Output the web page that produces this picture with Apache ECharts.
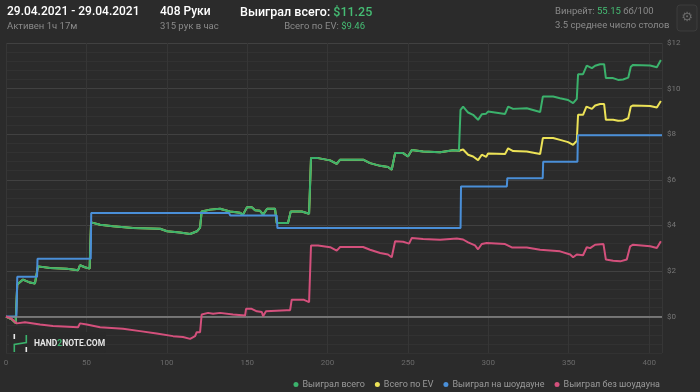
<!DOCTYPE html>
<html><head><meta charset="utf-8">
<script src="https://cdn.jsdelivr.net/npm/echarts@6/dist/echarts.min.js"></script>
<style>html,body{margin:0;padding:0;background:#2b2b2b;}#c{width:700px;height:392px;}</style>
</head><body><div id="c"></div>
<script>
// ---- data (x = hand number, y = dollars) ----
const xTicks = [0, 50, 100, 150, 200, 250, 300, 350, 400];
const yTicks = [0, 2, 4, 6, 8, 10, 12];
const seriesNames = ['Выиграл всего', 'Всего по EV', 'Выиграл на шоудауне', 'Выиграл без шоудауна'];

const totalHands = [0,3.5,6,7,7.5,10.6,14.9,18,19,19.9,27.4,37.8,44.8,46,49.1,52,52.9,58.5,66.6,79,95.8,100.2,108.2,114.5,118.8,120.7,121.7,126.9,133.1,139.3,145.6,147.4,149.9,153,154.9,158,159.9,162.4,167.3,168.4,175.4,177.1,184,188.5,189.7,194.1,201.6,205.7,207.8,222.1,226.4,232.7,237.6,239.9,242,247,250,252.4,259.4,270,278,281.7,282.7,284.3,287.4,290.5,293.6,295.9,298.6,299.8,310.4,312.3,315.4,323.9,332.2,333.9,340.3,344.6,349.6,352.7,355,355.8,358.9,361.2,364.4,366.4,369.5,372,373.1,377.6,380.7,383.8,387,388.6,390,400.6,404.8,406,407.3];
const totalValues = [0,-0.12,-0.28,1.4,1.4,1.62,1.49,1.45,1.45,2.2,2.13,2.1,2.03,2.25,2.16,2.1,4.13,4.03,3.96,3.88,3.85,3.74,3.69,3.62,3.74,3.9,4.61,4.69,4.73,4.61,4.55,4.47,4.79,4.79,4.66,4.64,4.47,4.73,4.73,4.1,4.1,4.61,4.61,4.51,6.95,6.95,6.85,6.7,6.88,6.88,6.73,6.61,6.56,6.44,7.17,7.17,7.02,7.31,7.24,7.21,7.29,7.27,9.07,9.21,8.95,8.85,8.63,8.87,8.9,8.99,8.89,9.21,9.11,9.14,8.97,9.65,9.65,9.58,9.5,9.36,9.55,10.63,10.63,11.01,10.9,11.0,11.07,11.07,10.46,10.46,10.38,10.4,10.48,10.96,11.04,11.01,10.94,10.96,11.25];

const evHands = [0,3.5,6,7,7.5,10.6,14.9,18,19,19.9,27.4,37.8,44.8,46,49.1,52,52.9,58.5,66.6,79,95.8,100.2,108.2,114.5,118.8,120.7,121.7,126.9,133.1,139.3,145.6,147.4,149.9,153,154.9,158,159.9,162.4,167.3,168.4,175.4,177.1,184,188.5,189.7,194.1,201.6,205.7,207.8,222.1,226.4,232.7,237.6,239.9,242,247,250,252.4,259.4,270,278,281.7,284.3,287.4,290.5,293.6,295.9,298.6,299.8,310.4,312.3,315.4,323.9,332.2,333.9,340.3,344.6,349.6,352.7,355,355.8,358.9,361,364.4,366.4,369.5,372,373.1,377.6,380.7,383.8,387,388.6,390,400.6,404.8,406,407.3];
const evValues = [0,-0.12,-0.28,1.4,1.4,1.62,1.49,1.45,1.45,2.2,2.13,2.1,2.03,2.25,2.16,2.1,4.13,4.03,3.96,3.88,3.85,3.74,3.69,3.62,3.74,3.9,4.61,4.69,4.73,4.61,4.55,4.47,4.79,4.79,4.66,4.64,4.47,4.73,4.73,4.1,4.1,4.61,4.61,4.51,6.95,6.95,6.85,6.7,6.88,6.88,6.73,6.61,6.56,6.44,7.17,7.17,7.02,7.31,7.24,7.21,7.29,7.27,7.33,7.1,7.02,6.86,7.1,7.0,7.15,7.13,7.38,7.26,7.24,7.13,7.83,7.83,7.75,7.65,7.53,7.71,8.85,8.85,9.21,9.11,9.26,9.32,9.32,8.63,8.63,8.59,8.6,8.7,9.21,9.26,9.24,9.17,9.2,9.46];

const sdHands = [0,6.5,7,19.3,19.6,52.7,53,138.7,139.5,168.4,168.8,282.7,283,311.5,311.8,333.8,334.1,355.4,355.7,408];
const sdValues = [0,0,1.74,1.74,2.53,2.53,4.54,4.54,4.43,4.43,3.88,3.88,5.71,5.71,6.07,6.07,6.79,6.79,7.95,7.95];

const nsdHands = [0,3,6.7,11.8,21.2,29.2,44.8,46,50.2,58.5,72.8,83.4,93.7,103.9,110.1,114.5,117.6,118.6,120.7,121.7,125.7,128.8,133.1,141.2,148.7,149.3,152.8,156,159.1,159.9,161.7,174.6,176.7,177.7,185,188.5,189.7,194.1,201.6,205.7,207.8,222.1,226.4,232.7,237.6,239.9,242,247,250.7,252.4,259.4,270,280.4,284.3,287.4,291.7,293.6,295.9,299,310.4,314.6,323.9,332.2,344.6,350.9,352.7,355,358.9,361.2,363.3,366.4,371.6,373.1,377.6,382,386.1,388.2,390,400.6,404.8,407.3];
const nsdValues = [0,-0.08,-0.3,-0.25,-0.35,-0.42,-0.47,-0.3,-0.35,-0.47,-0.54,-0.64,-0.74,-0.86,-0.9,-0.98,-0.86,-0.69,-0.69,0.09,0.16,0.12,0.16,0.09,0.04,0.34,0.34,0.23,0.2,0.01,0.23,0.28,0.28,0.74,0.74,0.63,3.12,3.12,3.04,2.89,3.05,3.05,2.93,2.79,2.72,2.6,3.3,3.28,3.2,3.45,3.4,3.37,3.42,3.38,3.25,3.12,2.95,3.18,3.23,3.18,3.03,3.03,2.93,2.86,2.72,2.6,2.72,2.69,3.04,3.0,3.15,3.18,2.5,2.45,2.42,2.5,3.08,3.15,3.08,3.01,3.3];

const colors = ['#3bb26c', '#ece257', '#4a8fd8', '#d4507c'];

function pairs(h, v) { return h.map((x, i) => [x, v[i]]); }

const chart = echarts.init(document.getElementById('c'), null, {renderer: 'canvas'});
const FONT = 'Roboto';
const lineCommon = {type: 'line', showSymbol: false, symbol: 'none', animation: false, lineStyle: {width: 2}, emphasis: {disabled: true}};
const SUB = '9.5px Roboto';
const HEAD = '500 12px Roboto';
const HEAD2 = '500 12.5px Roboto';

chart.setOption({
  backgroundColor: '#2b2b2b',
  textStyle: {fontFamily: FONT},
  grid: {left: 6, right: 38, top: 43, bottom: 39},
  legend: {
    data: seriesNames, right: 35, top: 375, icon: 'circle', itemWidth: 5, itemHeight: 5, itemGap: 10,
    textStyle: {color: '#9a9a9a', fontSize: 9, fontFamily: FONT, padding: [0, 0, 0, -1]}, inactiveColor: '#555'
  },
  xAxis: {
    type: 'value', min: 0, max: 408, interval: 50,
    axisLine: {show: false}, axisTick: {show: false},
    axisLabel: {color: '#6a6a6a', fontSize: 8, margin: 6,
      formatter: v => xTicks.indexOf(Math.round(v)) >= 0 ? String(Math.round(v)) : ''},
    splitLine: {show: true, lineStyle: {color: '#363636', width: 1}}
  },
  yAxis: {
    type: 'value', position: 'right', min: -1.6, max: 12, interval: 0.4,
    axisLine: {show: false}, axisTick: {show: false},
    axisLabel: {color: '#767676', fontSize: 8, margin: 5, interval: 0,
      formatter: v => { const r = Math.round(v * 10) / 10; return yTicks.indexOf(r) >= 0 ? '$' + r : ''; }},
    splitLine: {show: true, lineStyle: {color: ['#323232', '#323232', '#323232', '#323232', '#414141'], width: 1}}
  },
  series: [
    Object.assign({}, lineCommon, {name: seriesNames[1], data: pairs(evHands, evValues), color: colors[1], z: 2}),
    Object.assign({}, lineCommon, {name: seriesNames[0], data: pairs(totalHands, totalValues), color: colors[0], z: 3,
      markLine: {silent: true, symbol: 'none', label: {show: false}, animation: false,
        lineStyle: {color: '#8a8a8a', width: 1.5, type: 'solid'}, data: [{yAxis: 0}]}}),
    Object.assign({}, lineCommon, {name: seriesNames[2], data: pairs(sdHands, sdValues), color: colors[2], z: 4}),
    Object.assign({}, lineCommon, {name: seriesNames[3], data: pairs(nsdHands, nsdValues), color: colors[3], z: 5})
  ],
  graphic: [
    {type: 'text', left: 7, top: 6, style: {text: '29.04.2021 - 29.04.2021', fill: '#ffffff', font: HEAD}},
    {type: 'text', left: 7, top: 22, style: {text: 'Активен 1ч 17м', fill: '#8a8a8a', font: SUB}},
    {type: 'text', left: 160, top: 6, style: {text: '408 Руки', fill: '#ffffff', font: HEAD}},
    {type: 'text', left: 160, top: 22, style: {text: '315 рук в час', fill: '#8a8a8a', font: SUB}},
    {type: 'text', left: 240, top: 6, style: {text: '{w|Выиграл всего: }{g|$11.25}', rich: {
      w: {fill: '#ffffff', font: HEAD2}, g: {fill: '#45bd74', font: HEAD2}}}},
    {type: 'text', right: 335, top: 22, style: {text: '{w|Всего по EV: }{g|$9.46}', rich: {
      w: {fill: '#8a8a8a', font: SUB}, g: {fill: '#45bd74', font: SUB}}}},
    {type: 'text', left: 555, top: 7, style: {text: '{w|Винрейт: }{g|55.15}{w| бб/100}', rich: {
      w: {fill: '#8a8a8a', font: SUB}, g: {fill: '#45bd74', font: SUB}}}},
    {type: 'text', left: 555, top: 21, style: {text: '3.5 среднее число столов', fill: '#8a8a8a', font: SUB}},
    {type: 'rect', shape: {x: 677, y: 5, width: 20, height: 26, r: 3}, style: {fill: '#2e2e2e', stroke: '#3c3c3c', lineWidth: 1}},
    {type: 'text', x: 687, y: 18, style: {text: '⚙', fill: '#6a6a6a', font: '13px "DejaVu Sans"', align: 'center', verticalAlign: 'middle'}},
    {type: 'rect', z: 20, shape: {x: 9, y: 332, width: 97, height: 21, r: 2}, style: {fill: '#2a2a2a'}},
    {type: 'rect', z: 21, shape: {x: 13.5, y: 334, width: 1.6, height: 5}, style: {fill: '#e8e8e8'}},
    {type: 'rect', z: 21, shape: {x: 25.5, y: 347, width: 1.6, height: 5}, style: {fill: '#e8e8e8'}},
    {type: 'polyline', z: 21, shape: {points: [[14.3, 352], [14.3, 344.5], [26.3, 342.5], [26.3, 335]]}, style: {stroke: '#3bb26c', lineWidth: 1.6, fill: null}},
    {type: 'text', z: 21, left: 34, top: 339, style: {text: '{w|HAND}{g|2}{w|NOTE.COM}', rich: {
      w: {fill: '#e6e6e6', font: 'bold 8.5px Roboto'}, g: {fill: '#3bb26c', font: 'bold 8.5px Roboto'}}}}
  ]
});
</script></body></html>
